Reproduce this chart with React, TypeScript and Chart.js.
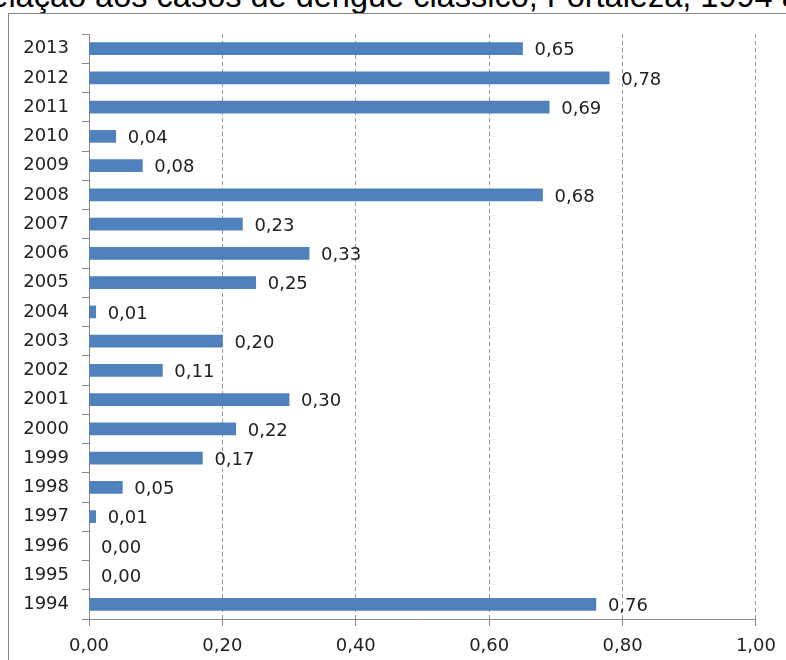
import React, { useEffect, useRef } from "react";
import { Chart, registerables } from "chart.js";

Chart.register(...registerables);

const years = ["1994","1995","1996","1997","1998","1999","2000","2001","2002","2003","2004","2005","2006","2007","2008","2009","2010","2011","2012","2013"];
const values = [0.76,0.00,0.00,0.01,0.05,0.17,0.22,0.30,0.11,0.20,0.01,0.25,0.33,0.23,0.68,0.08,0.04,0.69,0.78,0.65];
const xTicks = [0, 0.2, 0.4, 0.6, 0.8, 1.0];
const titleText = "relação aos casos de dengue clássico, Fortaleza, 1994 a 2013";

const fmt = (v: number) => v.toFixed(2).replace(".", ",");

const FONT = "'DejaVu Sans', Verdana, sans-serif";

const labelPlugin = {
  id: "valueLabels",
  afterDatasetsDraw(chart: any) {
    const ctx = chart.ctx;
    const meta = chart.getDatasetMeta(0);
    ctx.save();
    ctx.font = `18px ${FONT}`;
    ctx.fillStyle = "#222";
    ctx.textAlign = "left";
    ctx.textBaseline = "middle";
    meta.data.forEach((bar: any, i: number) => {
      ctx.fillText(fmt(values[i]), bar.x + 12, bar.y + 2);
    });
    ctx.restore();
  },
};

export default function App() {
  const ref = useRef<HTMLCanvasElement>(null);
  useEffect(() => {
    if (!ref.current) return;
    const chart = new Chart(ref.current, {
      type: "bar",
      data: {
        labels: years,
        datasets: [
          {
            data: values,
            backgroundColor: "#4F81BD",
            borderWidth: 0,
            barThickness: 12,
          },
        ],
      },
      options: {
        indexAxis: "y",
        animation: false,
        responsive: false,
        maintainAspectRatio: false,
        layout: { padding: { left: 0, top: 34, right: 30, bottom: 0 } },
        plugins: { legend: { display: false }, title: { display: false }, tooltip: { enabled: false } },
        scales: {
          x: {
            type: "linear",
            min: 0,
            max: 1,
            afterBuildTicks: (scale: any) => {
              scale.ticks = xTicks.map((v) => ({ value: v }));
            },
            afterFit: (scale: any) => {
              scale.height = 41;
            },
            ticks: {
              font: { family: FONT, size: 18 },
              color: "#222",
              padding: 10,
              maxRotation: 0,
              callback: (v: any) => fmt(Number(v)),
            },
            grid: {
              color: "#999",
              lineWidth: 1,
              drawTicks: true,
              tickLength: 7,
              tickColor: "#888",
            },
            border: { display: true, color: "#888", width: 1, dash: [4, 3] },
          },
          y: {
            reverse: true,
            afterFit: (scale: any) => {
              scale.width = 89;
            },
            ticks: {
              font: { family: FONT, size: 18 },
              color: "#222",
              padding: 13,
            },
            grid: {
              drawOnChartArea: false,
              drawTicks: true,
              tickLength: 7,
              color: "#888",
              offset: true,
            },
            border: { display: true, color: "#888", width: 1 },
          },
        },
      },
      plugins: [labelPlugin],
    });
    return () => chart.destroy();
  }, []);

  return (
    <div style={{ position: "fixed", left: 0, top: 0, width: 786, height: 660, overflow: "hidden", background: "#fff" }}>
      <div
        style={{
          position: "absolute",
          left: -20.5,
          top: -22,
          whiteSpace: "nowrap",
          fontFamily: "'Liberation Sans', Arial, sans-serif",
          fontSize: 32.5,
          lineHeight: "36px",
          color: "#000",
        }}
      >
        {titleText}
      </div>
      <div
        style={{
          position: "absolute",
          left: 8,
          top: 13,
          width: 820,
          height: 700,
          border: "1.5px solid #858585",
          boxSizing: "border-box",
        }}
      />
      <canvas ref={ref} width={786} height={660} style={{ position: "absolute", left: 0, top: 0 }} />
    </div>
  );
}
